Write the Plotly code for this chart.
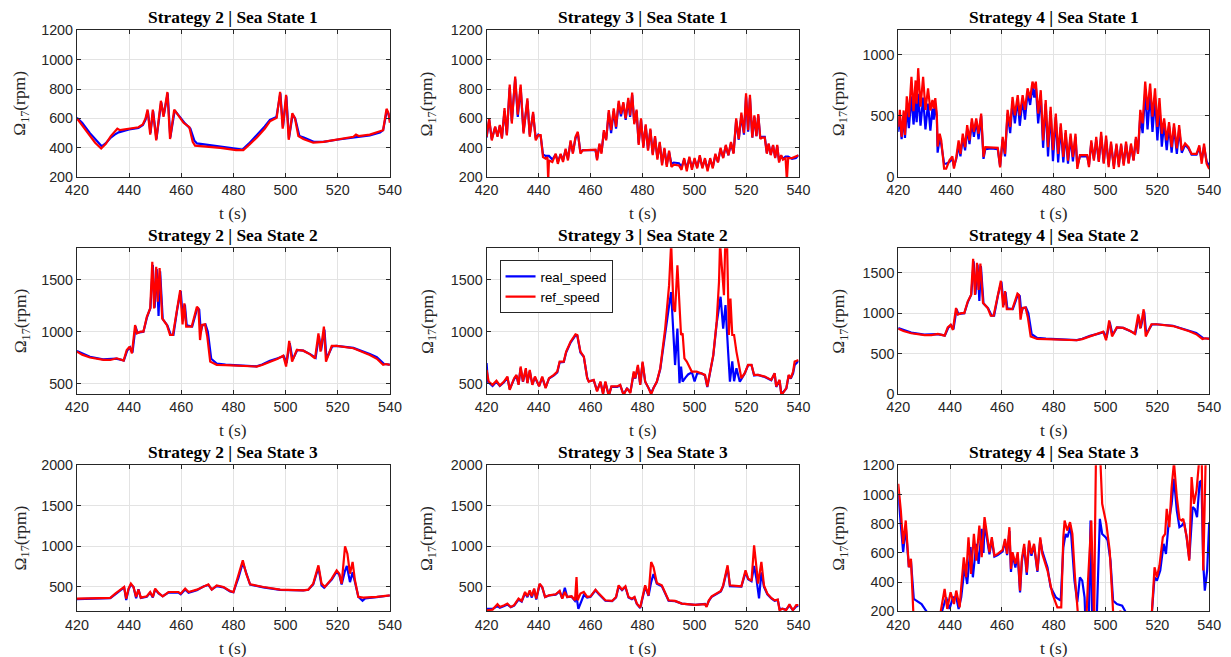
import plotly.graph_objects as go

# ---------------- data (t [s], speed [rpm]) ----------------
s2_ss1_ref = [(420,600),(422,555),(425,480),(427,435),(429.3,395),(431,425),(433,480),(434.5,510),(435.5,530),(436.5,520),(440,530),(443.6,540),(445.3,560),(446.3,600),(447.1,660),(448.1,490),(449.1,660),(450.4,450),(452.2,720),(453.2,610),(454.7,780),(455.7,460),(457.3,660),(459,620),(460.9,570),(463.1,540),(464.4,440),(465.3,415),(470,410),(475,400),(481,385),(483.8,385),(486,420),(489,470),(492,530),(494,580),(496.6,605),(497.9,780),(498.9,530),(500.2,760),(501.2,455),(502.6,635),(503.6,600),(504.9,480),(506.8,460),(510.6,435),(514.5,440),(519.6,455),(526,475),(527,490),(528,480),(532.3,490),(536.2,510),(537.4,520),(538.7,665),(539.4,640),(540,570)]
s2_ss1_real = [(420,605),(422,570),(425,500),(427,460),(429.5,410),(431,430),(433,470),(434.5,490),(436,505),(440,525),(443.6,535),(445.3,555),(446.3,590),(447.2,650),(448.2,500),(449.2,650),(450.5,460),(452.3,710),(453.3,620),(454.8,770),(455.8,470),(457.5,655),(459.5,610),(461.5,565),(463.5,530),(465,450),(466,430),(470,420),(475,405),(481,390),(483.5,388),(486,430),(489,485),(492,545),(494,590),(496.5,610),(498,770),(499,540),(500.3,750),(501.3,465),(502.7,625),(503.7,600),(505.3,480),(507,470),(511,440),(514.5,440),(519.6,455),(526,470),(532.3,485),(536.2,505),(537.4,520),(538.8,650),(539.5,630),(540,590)]

s3_ss1_ref = [(420,475),(421,600),(422,450),(423.3,545),(424.2,475),(425.1,555),(425.9,463),(426.9,670),(427.8,485),(428.9,830),(429.7,565),(431,885),(432,625),(433.1,830),(434.2,497),(435.7,737),(436.6,475),(437.9,645),(438.9,451),(439.9,486),(440.8,486),(441.7,337),(442.7,326),(443.4,337),(443.7,180),(444,314),(445.3,303),(446.6,360),(447.4,291),(448.5,360),(449.4,303),(450.4,394),(451.3,314),(452.3,451),(453.2,360),(454.2,474),(455.1,509),(456.1,360),(457,383),(459.3,383),(461.9,388),(462.5,314),(463.4,429),(464.2,360),(465.1,520),(466,451),(467,657),(467.9,520),(468.9,669),(469.8,543),(470.8,720),(471.7,630),(472.6,710),(473.5,600),(474.5,740),(475.2,620),(476,775),(476.8,560),(477.7,660),(478.5,420),(479.4,600),(480.3,400),(481.2,560),(482.1,380),(483,530),(483.9,350),(484.8,480),(485.7,320),(486.6,440),(487.5,280),(488.4,400),(489.3,270),(490.2,380),(491.1,270),(492,285),(494,280),(495,250),(496,330),(497,240),(498,340),(499,250),(500,330),(501,260),(502,350),(503,260),(504,330),(505,240),(506,330),(507,260),(508,360),(509,300),(510,400),(511,330),(512,420),(513,350),(514,440),(515,360),(516,600),(517,460),(518,640),(519,500),(519.8,770),(520.6,520),(521.3,760),(522.2,470),(523,620),(523.8,480),(524.5,630),(525.3,460),(526,470),(527,470),(527.8,360),(528.5,430),(529.3,350),(530.2,420),(531,330),(531.8,420),(532.5,300),(533.3,350),(534,320),(535,330),(535.5,180),(536,330),(537.5,330),(539,340),(540,350)]
s3_ss1_real = [(420,470),(421,590),(422,460),(423.3,540),(424.2,480),(425.1,550),(425.9,470),(426.9,650),(427.8,490),(428.9,810),(429.7,580),(431,870),(432,610),(433.1,810),(434.2,510),(435.7,720),(436.6,490),(437.9,630),(438.9,465),(439.9,490),(440.8,480),(441.7,355),(442.7,345),(444,345),(445.3,320),(446.6,355),(447.4,305),(448.5,355),(449.4,315),(450.4,385),(451.3,325),(452.3,440),(453.2,370),(454.2,465),(455.1,500),(456.1,370),(457,385),(459.3,385),(461.9,385),(462.5,325),(463.4,420),(464.2,370),(465.1,505),(466,460),(467,640),(467.9,500),(468.9,650),(469.8,530),(470.8,700),(471.7,615),(472.6,700),(473.5,590),(474.5,725),(475.2,610),(476,760),(476.8,570),(477.7,650),(478.5,430),(479.4,590),(480.3,410),(481.2,550),(482.1,390),(483,520),(483.9,360),(484.8,470),(485.7,330),(486.6,430),(487.5,295),(488.4,390),(489.3,285),(490.2,370),(491.1,290),(492,300),(494,295),(495,270),(496,320),(497,260),(498,330),(499,265),(500,320),(501,270),(502,340),(503,270),(504,320),(505,255),(506,320),(507,270),(508,350),(509,305),(510,390),(511,335),(512,410),(513,350),(514,430),(515,365),(516,585),(517,455),(518,620),(519,490),(519.8,750),(520.6,510),(521.3,740),(522.2,470),(523,610),(523.8,480),(524.5,620),(525.3,465),(526,475),(527,475),(527.8,365),(528.5,425),(529.3,355),(530.2,415),(531,335),(531.8,410),(532.5,310),(533.3,345),(534,325),(535,340),(536,340),(537.5,325),(539,330),(540,350)]

s4_ss1_ref = [(420,411),(420.6,550),(421.3,330),(422.1,545),(422.6,345),(423.3,660),(424.1,490),(425.1,820),(425.9,540),(426.7,790),(427.1,600),(427.7,890),(428.6,575),(429.6,820),(430.5,550),(431.5,725),(432.4,545),(433.2,630),(433.7,560),(434.3,645),(434.9,510),(435.2,250),(436,355),(436.6,300),(437.7,70),(438.5,70),(439.8,140),(440.9,170),(441.5,70),(442.4,165),(443.3,300),(444,190),(444.9,355),(445.8,245),(446.6,425),(447.5,300),(448.4,480),(449.2,370),(450.1,480),(451,355),(452,520),(452.9,165),(453.6,245),(455.8,245),(458.4,240),(459.3,80),(460.3,330),(461.2,190),(462.2,550),(463.2,410),(464.1,655),(465,505),(466.1,670),(466.9,505),(468,670),(468.9,550),(469.9,725),(470.9,645),(471.8,780),(472.5,725),(473.1,780),(474,520),(475,710),(475.9,300),(476.9,630),(477.8,245),(478.8,575),(479.7,220),(480.8,520),(481.7,190),(482.7,440),(483.7,165),(484.6,385),(485.5,135),(486.5,355),(487.4,165),(488.4,355),(489.1,68),(490.1,180),(492.9,180),(493.6,82),(494.5,300),(495.5,135),(496.4,330),(497.4,125),(498.3,370),(499.3,110),(500.2,340),(501.2,82),(502.1,290),(503.2,68),(504.2,275),(505.1,82),(506,275),(507,95),(507.9,290),(508.9,110),(509.8,275),(510.8,135),(511.7,330),(512.5,190),(513.4,550),(514.3,440),(515.3,780),(516.2,550),(517.2,765),(518.1,495),(519.1,725),(520,410),(520.8,645),(521.7,355),(522.6,480),(523.6,300),(524.5,450),(525.5,245),(526.4,440),(527.5,235),(528.4,425),(529.4,220),(530.7,275),(532,245),(533.2,190),(535.1,190),(536.2,260),(537.1,110),(538,275),(539,110),(540,68)]
s4_ss1_real = [(420,370),(420.6,500),(421.3,310),(422.1,500),(422.6,320),(423.3,560),(424.1,400),(425.1,660),(425.9,430),(426.7,630),(427.1,450),(427.7,680),(428.6,420),(429.6,650),(430.5,390),(431.5,600),(432.4,380),(433.2,560),(433.7,470),(434.3,600),(434.9,480),(435.2,200),(436,320),(436.6,270),(437.7,110),(438.5,110),(439.8,125),(440.9,150),(441.5,90),(442.4,150),(443.3,260),(444,170),(444.9,320),(445.8,220),(446.6,390),(447.5,270),(448.4,450),(449.2,330),(450.1,460),(451,310),(452,500),(452.9,150),(453.6,230),(455.8,235),(458.4,230),(459.3,90),(460.3,310),(461.2,170),(462.2,520),(463.2,360),(464.1,620),(465,440),(466.1,640),(466.9,420),(468,640),(468.9,470),(469.9,690),(470.9,590),(471.8,740),(472.5,650),(473.1,740),(474,440),(475,670),(475.9,240),(476.9,600),(477.8,170),(478.8,540),(479.7,130),(480.8,490),(481.7,120),(482.7,410),(483.7,120),(484.6,360),(485.5,110),(486.5,330),(487.4,130),(488.4,330),(489.1,90),(490.1,170),(492.9,170),(493.6,100),(494.5,280),(495.5,150),(496.4,300),(497.4,130),(498.3,340),(499.3,120),(500.2,310),(501.2,100),(502.1,270),(503.2,90),(504.2,260),(505.1,100),(506,260),(507,110),(507.9,270),(508.9,120),(509.8,260),(510.8,140),(511.7,310),(512.5,200),(513.4,500),(514.3,360),(515.3,700),(516.2,390),(517.2,690),(518.1,370),(519.1,640),(520,300),(520.8,580),(521.7,250),(522.6,440),(523.6,220),(524.5,420),(525.5,200),(526.4,410),(527.5,190),(528.4,390),(529.4,200),(530.7,265),(532,235),(533.2,185),(535.1,185),(536.2,240),(537.1,140),(538,250),(539,130),(540,90)]

s2_ss2_ref = [(420,809),(422,780),(425,752),(428,735),(430.2,729),(432.8,729),(434,740),(435.3,745),(437.9,723),(439.1,825),(440.2,857),(441.1,793),(442.3,1064),(443,984),(444.3,1000),(445.5,1000),(446.8,1143),(448.1,1223),(448.9,1669),(449.6,1223),(450.4,1621),(451,1287),(451.7,1611),(452.7,1127),(454.5,1064),(455.7,968),(456.8,968),(458.3,1223),(459.6,1398),(460.5,1070),(461.2,1271),(461.9,1048),(464,1048),(466,1239),(466.6,1223),(467.2,920),(467.9,1064),(469.1,1070),(470,950),(471.1,713),(473.6,682),(477,680),(481.3,675),(485,668),(488.9,666),(491,680),(494,713),(497,740),(499.1,771),(500.2,666),(501.4,911),(502.5,713),(504.3,825),(506.8,818),(509.4,783),(511.3,745),(512.6,984),(513.4,809),(514.7,1048),(515.5,713),(517.7,863),(519.6,863),(526,841),(532.3,777),(535,740),(537.4,682),(538.5,690),(540,682)]
s2_ss2_real = [(420,815),(425,760),(430,735),(435,742),(438,725),(439.3,820),(440.4,850),(441.3,800),(442.5,1050),(443.2,990),(445.5,1000),(446.9,1140),(448.2,1230),(449.1,1640),(449.8,1230),(450.6,1600),(451.3,1150),(451.9,1580),(452.9,1120),(454.7,1060),(456,970),(457,970),(458.5,1220),(459.8,1390),(460.7,1100),(461.4,1260),(462.1,1060),(464.2,1050),(466.2,1230),(466.9,1210),(467.5,1000),(468.1,1060),(469.3,1070),(470.2,1000),(471.5,740),(473.6,695),(477,685),(481.3,678),(485,670),(488.9,668),(491,685),(494,720),(497,745),(499.3,765),(500.4,700),(501.6,890),(502.7,730),(504.5,825),(506.8,818),(509.4,785),(511.5,750),(512.8,960),(513.6,820),(514.9,1020),(515.7,740),(517.9,860),(519.6,863),(526,845),(532.3,785),(535,755),(537.8,690),(540,685)]

s3_ss2_ref = [(420,634),(420.8,522),(422.3,490),(423.8,529),(425.1,484),(426.7,522),(428,570),(428.9,443),(430.6,554),(431.5,586),(432.3,490),(433.1,666),(434,522),(435.1,650),(435.7,506),(436.6,634),(437.6,490),(438.6,570),(440.2,475),(441.4,570),(442.7,459),(444,554),(445.9,586),(447.2,618),(448.1,713),(449.7,713),(450.6,809),(452.3,904),(454.2,975),(454.9,968),(456.1,809),(457.4,761),(458.7,554),(459.3,522),(461.2,538),(462.5,427),(463.8,522),(464.8,400),(465.7,522),(467,380),(468,475),(470.2,475),(471.4,490),(472.7,390),(474,459),(475.3,411),(476.6,618),(477.2,554),(478.2,682),(479.1,490),(480,713),(481,522),(482.3,459),(483.3,400),(484.2,459),(485.5,522),(486.8,650),(488.7,1032),(490.2,1446),(491,1850),(491.9,1223),(492.5,1191),(493.4,1637),(494.2,1318),(494.8,968),(495.4,984),(496.1,745),(497,713),(498.9,618),(500.8,618),(502.7,602),(504,586),(504.9,475),(505.9,602),(507.2,777),(508.5,1096),(509.4,1478),(509.8,1850),(510.6,1605),(511.3,1350),(511.8,1850),(512.5,1850),(513.2,968),(513.8,1318),(514.5,968),(515.2,968),(516.1,809),(517.4,618),(518,554),(519.3,602),(520.6,682),(521.9,682),(522.9,586),(524.4,586),(527,570),(529.5,538),(530.8,602),(531.4,475),(532.7,538),(533.4,390),(535.3,459),(536.2,586),(537,554),(537.9,618),(538.5,713),(540,729)]
s3_ss2_real = [(420,700),(420.5,520),(422.3,480),(423.8,520),(425.1,480),(426.7,515),(428,560),(428.9,450),(430.6,545),(431.5,575),(432.3,495),(433.1,650),(434,520),(435.1,635),(435.7,510),(436.6,620),(437.6,495),(438.6,560),(440.2,480),(441.4,560),(442.7,465),(444,550),(445.9,580),(447.2,610),(448.1,705),(449.7,710),(450.6,800),(452.3,895),(454.2,965),(454.9,960),(456.1,800),(457.4,760),(458.7,560),(459.3,525),(461.2,535),(462.5,435),(463.8,515),(464.8,410),(465.7,515),(467,390),(468,470),(470.2,470),(471.4,485),(472.7,400),(474,455),(475.3,420),(476.6,600),(477.2,550),(478.2,665),(479.1,495),(480,700),(481,520),(482.3,460),(483.3,410),(484.2,460),(485.5,520),(486.8,640),(488.7,1000),(490.2,1250),(491,1380),(491.9,1000),(492.5,680),(493.4,1030),(494.2,506),(494.8,666),(495.4,522),(496.5,560),(497.5,590),(499,610),(500,522),(501,600),(502.7,600),(504,580),(504.9,470),(505.9,600),(507.2,770),(508.5,1080),(509.4,1250),(510,1335),(511,1030),(511.9,1255),(512.9,810),(513.6,520),(514.5,715),(515.2,525),(516.1,650),(517.4,520),(519.3,600),(520.6,680),(521.9,680),(522.9,580),(524.4,585),(527,565),(529.5,535),(530.8,600),(531.4,470),(532.7,530),(533.4,400),(535.3,455),(536.2,580),(537,550),(537.9,600),(538.5,680),(540,720)]

s4_ss2_ref = s2_ss2_ref
s4_ss2_real = s2_ss2_real

s2_ss3_ref = [(420,356),(425,358),(432.8,365),(434.7,418),(436.6,467),(438.1,500),(438.9,356),(439.8,480),(440.7,541),(441.7,500),(442.7,377),(443.6,467),(444.5,369),(446.8,385),(448.1,438),(449.1,377),(450,480),(451.3,426),(452.9,385),(455.1,438),(458.9,438),(459.8,418),(461.5,480),(462.8,438),(466,467),(468.5,508),(470.4,533),(471.7,467),(473.6,520),(476.2,500),(478.7,451),(480,438),(481,541),(481.9,623),(483.6,828),(484.9,664),(486.4,533),(491.5,500),(497.9,467),(506.8,459),(508.7,467),(510.6,541),(512.6,767),(513.8,541),(515.1,500),(517.7,603),(519.6,705),(520.6,664),(521.5,541),(522.8,1000),(523.7,910),(524.7,664),(525.7,808),(526.6,582),(527.9,377),(529.8,369),(534.9,377),(540,397)]
s2_ss3_real = [(420,350),(432.8,362),(434.7,410),(436.6,460),(438.1,495),(438.9,340),(439.8,470),(440.7,530),(441.7,500),(442.7,360),(443.6,470),(444.5,365),(446.8,380),(448.1,430),(449.1,370),(450,470),(451.3,420),(452.9,385),(455.1,430),(458.9,430),(459.8,410),(461.5,470),(462.8,430),(466,460),(468.5,505),(470.4,525),(471.7,470),(473.6,510),(476.2,495),(478.7,445),(480,435),(481,530),(481.9,610),(483.6,800),(484.9,660),(486.4,530),(491.5,495),(497.9,465),(506.8,458),(508.7,465),(510.6,530),(512.6,740),(513.8,520),(514.8,490),(517.7,590),(519.6,690),(520.6,650),(521.5,530),(522.8,700),(523.5,760),(524.7,560),(525.7,680),(526.6,560),(527.9,380),(529.5,330),(530.5,360),(534.9,375),(540,395)]

s3_ss3_ref = [(420,213),(422.3,221),(424.2,287),(425.1,254),(426.8,275),(428,295),(429.3,254),(430.6,275),(432.3,356),(433.5,328),(434.8,438),(435.7,385),(436.6,459),(437.4,385),(438.3,480),(439.1,356),(440.4,541),(441.4,500),(442.5,377),(444,397),(446.6,410),(448.1,451),(449.1,356),(450.1,438),(451,377),(452.7,385),(454,336),(454.6,623),(455,336),(456.1,418),(457.4,438),(458.7,377),(460,385),(461.9,467),(463.2,418),(465.7,336),(468.3,328),(469.8,377),(470.8,520),(472.1,467),(473.4,508),(474.6,377),(475.9,356),(476.9,377),(477.8,295),(479.1,246),(479.7,336),(481,520),(482.3,397),(483.3,808),(484.2,746),(485.5,549),(487.4,520),(488.7,418),(490,336),(492.5,328),(495.1,295),(500.2,279),(504,287),(504.6,254),(505.5,336),(506.6,385),(508.5,418),(510.1,451),(511,520),(512.7,767),(513.6,520),(515.5,512),(518,508),(519.6,705),(520.6,603),(521.9,574),(522.9,1012),(523.8,746),(524.4,541),(525.7,808),(526.7,520),(528,418),(529.5,365),(530.8,336),(532,344),(532.7,213),(533.9,233),(535.2,213),(536.5,287),(537.8,213),(539.1,275),(540,275)]
s3_ss3_real = [(420,230),(422.3,230),(424.2,265),(425.1,245),(426.8,265),(428,285),(429.3,250),(430.6,270),(432.3,345),(433.5,320),(434.8,425),(435.7,375),(436.6,445),(437.4,370),(438.3,470),(439.1,345),(440.4,530),(441.4,495),(442.5,375),(444,395),(446.6,405),(448.1,445),(449.1,360),(450.1,490),(451,375),(452.7,380),(454,330),(454.6,380),(455.3,230),(456.1,300),(457.4,400),(458.7,370),(460,380),(461.9,460),(463.2,410),(465.7,330),(468.3,325),(469.8,370),(470.8,505),(472.1,460),(473.4,500),(474.6,370),(475.9,350),(476.9,370),(477.8,290),(479.1,240),(479.7,330),(481,500),(482.3,390),(483.3,560),(484.2,660),(485.5,540),(487.4,510),(488.7,410),(490,330),(492.5,325),(495.1,295),(500.2,280),(504,290),(504.6,260),(505.5,330),(506.6,380),(508.5,415),(510.1,445),(511,510),(512.7,740),(513.6,510),(515.5,505),(518,505),(519.6,680),(520.6,595),(521.9,570),(522.9,760),(523.8,600),(524.8,360),(525.7,680),(526.7,500),(528,410),(529.5,360),(530.8,330),(532,340),(532.7,230),(533.9,230),(535.2,220),(536.5,270),(537.8,215),(539.1,260),(540,270)]

s4_ss3_ref = [(420,1073),(421,890),(421.9,662),(422.9,822),(424.1,502),(424.9,559),(425.8,200),(426.5,0),(436,0),(436.4,200),(437.9,353),(438.9,216),(440.2,330),(441.5,250),(442.4,342),(443.7,227),(444.3,365),(445.3,570),(446.2,433),(447.1,707),(448.1,456),(449.2,730),(450.1,547),(451.3,787),(452.2,570),(453.3,845),(454.3,719),(455.2,605),(456.1,707),(457.1,582),(458.4,593),(460.3,620),(461.2,696),(462,593),(462.9,776),(463.5,490),(464.1,605),(465.2,525),(466.1,605),(467,342),(467.7,559),(468.6,662),(469.6,467),(470.5,685),(471.4,593),(472.4,662),(473.7,479),(474.8,707),(475.6,593),(477.6,479),(479.5,319),(481.4,227),(482.9,227),(483.7,707),(484.2,822),(485.2,753),(486.3,810),(487.2,730),(488.2,433),(489.1,250),(489.7,100),(492.5,100),(493.2,400),(494.5,822),(495.3,300),(495.6,100),(495.9,700),(496.4,1400),(497.6,1400),(498.7,936),(500.3,799),(501.6,616),(502.9,200),(503.4,100),(505.3,100),(505.7,205),(506.1,100),(517.5,100),(517.9,200),(518.9,502),(519.8,433),(520.8,513),(522.1,707),(523,730),(523.6,902),(524.6,776),(525.5,1050),(526.4,1220),(527.5,982),(528.5,833),(529.4,822),(530,833),(531.3,707),(532.3,547),(533.2,1119),(534.1,936),(535.1,1027),(536.2,1250),(537.1,1250),(537.7,479),(538.7,1300),(540,1300)]
s4_ss3_real = [(420,1005),(421,822),(421.9,605),(422.9,776),(424.1,502),(424.9,547),(426,285),(427,273),(429,250),(430.9,200),(431.5,100),(436.5,100),(436.9,200),(438.5,296),(439.8,216),(441.1,296),(442.4,296),(443.3,216),(444.3,296),(445.6,502),(446.6,387),(447.9,639),(448.8,433),(450.1,662),(451,525),(452.2,765),(452.9,600),(453.3,800),(454.3,700),(455.2,590),(456.1,690),(457.1,575),(458.4,585),(460.3,610),(461.2,680),(462,585),(462.9,750),(463.5,470),(464.1,590),(465.2,500),(466.1,590),(467,330),(467.7,540),(468.6,640),(469.6,450),(470.5,670),(471.4,580),(472.4,650),(473.7,470),(474.8,690),(475.6,610),(477.6,500),(478.8,365),(480.8,296),(482.7,273),(483.7,639),(484.6,730),(485.3,707),(486.5,787),(488,410),(489.1,262),(490.1,433),(491,410),(491.9,296),(492.3,100),(493.5,100),(494.2,822),(494.9,100),(496.5,100),(497.2,600),(497.8,833),(498.7,730),(500,707),(500.8,685),(501.9,547),(502.9,273),(504.4,250),(506.4,239),(507.6,200),(508,100),(517.5,100),(517.9,200),(518.9,433),(519.8,410),(521.1,479),(522.4,662),(523.3,593),(524.3,799),(525.5,936),(526.4,1107),(527.5,890),(528.5,776),(529.4,787),(530.3,810),(531.3,707),(532.3,559),(533.6,913),(534.4,902),(535.3,845),(536.3,1085),(537,1096),(537.7,525),(538.3,342),(539.2,479),(540,810)]

strategies = ["Strategy 2", "Strategy 3", "Strategy 4"]
sea_states = ["Sea State 1", "Sea State 2", "Sea State 3"]
series = [
    [(s2_ss1_real, s2_ss1_ref), (s3_ss1_real, s3_ss1_ref), (s4_ss1_real, s4_ss1_ref)],
    [(s2_ss2_real, s2_ss2_ref), (s3_ss2_real, s3_ss2_ref), (s4_ss2_real, s4_ss2_ref)],
    [(s2_ss3_real, s2_ss3_ref), (s3_ss3_real, s3_ss3_ref), (s4_ss3_real, s4_ss3_ref)],
]
y_ranges = [[(200, 1200, 200), (200, 1200, 200), (0, 1200, 500)],
            [(400, 1800, 500), (400, 1800, 500), (0, 1800, 500)],
            [(200, 2000, 500), (200, 2000, 500), (200, 1200, 200)]]
x_ticks = [420, 440, 460, 480, 500, 520, 540]

# ---------------- layout geometry ----------------
# target positions in picture pixels; the page shows the figure with an 8px
# body margin and the picture comes out slightly reduced, so positions are
# converted into figure pixels with that margin and reduction.
PAD, SX, SY = 8, 0.984, 0.976
W, H = 1250, 672
col_px = [(73, 387), (484, 797), (897, 1209)]
row_px = [(30, 177), (248, 394), (465, 611)]
ylab_x = [17, 425, 838]
title_y = [17, 235, 452]
xlab_y = [213, 430, 648]
FS = 1 / SY


def px(x):
    return (x / SX - PAD) / W


def py(y):
    return 1 - (y / SY - PAD) / H


TICKFONT = dict(family="Liberation Sans, Arial", size=14 * FS, color="#262626")
SERIF = "Liberation Serif, Times New Roman"

fig = go.Figure()
layout = dict(width=W, height=H, margin=dict(l=0, r=0, t=0, b=0),
              paper_bgcolor="white", plot_bgcolor="white",
              showlegend=True,
              legend=dict(x=px(497), y=py(260), xanchor="left", yanchor="top",
                          bgcolor="white", bordercolor="#262626", borderwidth=1,
                          font=dict(family="Liberation Sans, Arial", size=13 * FS, color="black"),
                          tracegroupgap=0, itemwidth=30))
annotations = []

for r in range(3):
    for c in range(3):
        k = r * 3 + c + 1
        sfx = "" if k == 1 else str(k)
        real, ref = series[r][c]
        rt, rv = zip(*real)
        ft, fv = zip(*ref)
        show = (r == 1 and c == 1)
        fig.add_trace(go.Scatter(x=rt, y=rv, mode="lines", name="real_speed",
                                 line=dict(color="#0000FF", width=2.2),
                                 xaxis="x" + sfx, yaxis="y" + sfx, showlegend=show))
        fig.add_trace(go.Scatter(x=ft, y=fv, mode="lines", name="ref_speed",
                                 line=dict(color="#FF0000", width=2.2),
                                 xaxis="x" + sfx, yaxis="y" + sfx, showlegend=show))
        x0, x1 = col_px[c]
        y0, y1 = row_px[r]
        lo, hi, dt = y_ranges[r][c]
        common = dict(showline=True, linecolor="#262626", linewidth=1, mirror="ticks",
                      ticks="inside", ticklen=4, tickcolor="#262626",
                      showgrid=True, gridcolor="#e3e3e3", gridwidth=1,
                      zeroline=False, tickfont=TICKFONT)
        layout["xaxis" + sfx] = dict(domain=[px(x0), px(x1)], range=[420, 540],
                                     tickvals=x_ticks, anchor="y" + sfx, **common)
        layout["yaxis" + sfx] = dict(domain=[py(y1), py(y0)], range=[lo, hi],
                                     tick0=0, dtick=dt, anchor="x" + sfx, **common)
        cx = px((x0 + x1) / 2)
        annotations.append(dict(text="<b>%s | %s</b>" % (strategies[c], sea_states[r]),
                                x=cx, y=py(title_y[r]), xref="paper", yref="paper",
                                showarrow=False, xanchor="center", yanchor="middle",
                                font=dict(family=SERIF, size=17 * FS, color="black")))
        annotations.append(dict(text="t (s)", x=cx, y=py(xlab_y[r]),
                                xref="paper", yref="paper", showarrow=False,
                                xanchor="center", yanchor="middle",
                                font=dict(family=SERIF, size=17 * FS, color="#262626")))
        annotations.append(dict(text="Ω<sub>17</sub>(rpm)", x=px(ylab_x[c]),
                                y=py((y0 + y1) / 2), xref="paper", yref="paper",
                                showarrow=False, textangle=-90,
                                xanchor="center", yanchor="middle",
                                font=dict(family=SERIF, size=17 * FS, color="#262626")))

layout["annotations"] = annotations
fig.update_layout(**layout)
fig.write_html("out.html")
